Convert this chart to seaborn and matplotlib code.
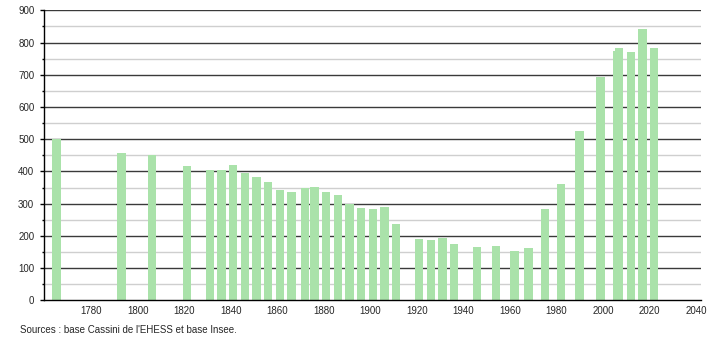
import matplotlib
matplotlib.use("Agg")
import matplotlib.pyplot as plt
import seaborn as sns
import pandas as pd
from matplotlib.ticker import MultipleLocator

years = [1765, 1793, 1806, 1821, 1831, 1836, 1841, 1846, 1851, 1856, 1861, 1866,
         1872, 1876, 1881, 1886, 1891, 1896, 1901, 1906, 1911, 1921, 1926, 1931,
         1936, 1946, 1954, 1962, 1968, 1975, 1982, 1990, 1999, 2006, 2007, 2012,
         2017, 2022]
population = [500, 458, 450, 417, 404, 404, 419, 396, 383, 367, 342, 337,
              348, 352, 337, 327, 298, 286, 283, 290, 237, 190, 187, 193,
              175, 165, 168, 153, 163, 283, 362, 525, 694, 775, 783, 771,
              842, 784]
x_ticks = [1780, 1800, 1820, 1840, 1860, 1880, 1900, 1920, 1940, 1960, 1980, 2000, 2020, 2040]
y_ticks = [0, 100, 200, 300, 400, 500, 600, 700, 800, 900]
source_text = "Sources : base Cassini de l'EHESS et base Insee."

sns.set_style("white")
plt.rcParams["font.family"] = ["Liberation Sans", "DejaVu Sans"]

df = pd.DataFrame({"year": years, "pop": population})

fig = plt.figure(figsize=(7.1, 3.4), dpi=100)
ax = fig.add_axes([44 / 710, 39.7 / 340, (700.7 - 44) / 710, 290 / 340])

sns.barplot(data=df, x="year", y="pop", native_scale=True, width=3.6,
            color="#aae2aa", saturation=1, errorbar=None, ax=ax,
            edgecolor="none", linewidth=0, zorder=2)

ax.set_xlim(1759.6, 2042.1)
ax.set_ylim(0, 900)
ax.set_xticks(x_ticks)
ax.set_xticklabels([str(t) for t in x_ticks])
ax.set_yticks(y_ticks)
ax.yaxis.set_minor_locator(MultipleLocator(50))

ax.grid(False)
for v in y_ticks[1:]:
    ax.axhline(v, color="#3a3a3a", linewidth=1.0, zorder=1)
for v in range(50, 900, 100):
    ax.axhline(v, color="#cfcfcf", linewidth=1.0, zorder=1)

for s in ["top", "right"]:
    ax.spines[s].set_visible(False)
ax.spines["left"].set_color("black")
ax.spines["bottom"].set_color("black")
ax.spines["left"].set_linewidth(1.0)
ax.spines["bottom"].set_linewidth(1.0)

ax.tick_params(axis="y", which="major", length=3, width=1, color="black",
               labelsize=7, pad=4, left=True)
ax.tick_params(axis="y", which="minor", length=1.5, width=1, color="black", left=True)
ax.tick_params(axis="x", length=0, labelsize=7, pad=4)
ax.set_xlabel("")
ax.set_ylabel("")

fig.text(20 / 710, 1 - 330 / 340, source_text, fontsize=7, va="center", ha="left")

fig.savefig("out.png", dpi=100)
